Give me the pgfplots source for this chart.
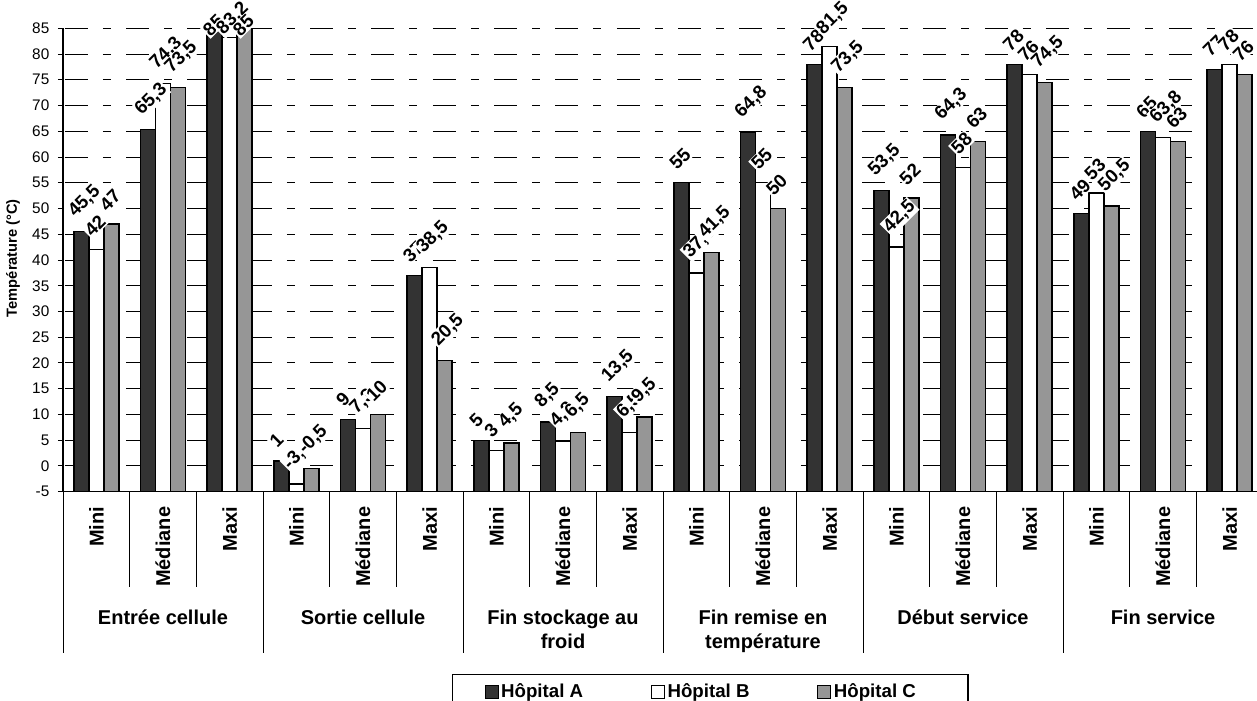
\documentclass[border=0pt]{standalone}
\usepackage{pgfplots}
\pgfplotsset{compat=1.18}
\usepackage{pgfplotstable}
\usepackage{fontspec}
\setmainfont{Liberation Sans}
\definecolor{colA}{HTML}{333333}
\definecolor{colC}{HTML}{969696}

\pgfplotstableread{
x A B C
0 45.5 42 47
1 65.3 74.3 73.5
2 85 83.2 85
3 1 -3.5 -0.5
4 9 7.3 10
5 37 38.5 20.5
6 5 3 4.5
7 8.5 4.8 6.5
8 13.5 6.5 9.5
9 55 37.5 41.5
10 64.8 55 50
11 78 81.5 73.5
12 53.5 42.5 52
13 64.3 58 63
14 78 76 74.5
15 49 53 50.5
16 65 63.8 63
17 77 78 76
}\data

\begin{document}
\begin{tikzpicture}
\begin{axis}[
  at={(47.25pt,156.2pt)}, anchor=south west,
  scale only axis, width=900pt, height=347.6pt,
  xmin=-0.5, xmax=17.5, ymin=0, ymax=90,
  y filter/.expression={y+5},
  point meta=rawy,
  visualization depends on={rawy \as \rawyval},
  ybar=0pt, bar width=0.225,
  axis x line*=bottom, axis y line*=left,
  axis line style={line width=0.9pt, black},
  tick align=outside,
  ytick={0,5,...,90},
  yticklabels={-5,0,5,10,15,20,25,30,35,40,45,50,55,60,65,70,75,80,85},
  yticklabel style={font=\fontsize{11.5}{12}\selectfont, xshift=-3pt},
  ytick style={black, line width=0.75pt},
  ymajorgrids,
  major grid style={black, line width=0.75pt, dash pattern=on 17.25pt off 11.25pt on 6pt off 11.5pt, dash phase=44.65pt},
  major tick length=3.75pt,
  xtick={0,...,17},
  xticklabels={Mini,Médiane,Maxi,Mini,Médiane,Maxi,Mini,Médiane,Maxi,Mini,Médiane,Maxi,Mini,Médiane,Maxi,Mini,Médiane,Maxi},
  xticklabel style={yshift=-4pt, font=\bfseries\fontsize{15}{16}\selectfont, rotate=90, anchor=east},
  every major x tick/.style={draw=none},
  minor xtick={0.5,1.5,3.5,4.5,6.5,7.5,9.5,10.5,12.5,13.5,15.5,16.5},
  minor tick length=71.25pt,
  minor tick style={black, line width=0.75pt},
  ylabel={Température (°C)},
  ylabel style={font=\bfseries\fontsize{11}{13}\selectfont, at={(axis description cs:-0.0417,0.504)}, anchor=center},
  nodes near coords,
  /pgf/number format/use comma,
  /pgf/number format/assume math mode=true,
  /pgf/number format/1000 sep={},
  every node near coord/.append style={font=\bfseries\fontsize{14}{15}\selectfont, fill=white, inner sep=0.8pt, anchor=south west, xshift=-3pt, yshift={min(7,319-3.855*\rawyval)*1pt}, rotate=45, text=black},
  legend columns=3,
  legend style={at={(0.3242,-0.3934)}, anchor=north west, draw=black, line width=1pt, font=\bfseries\fontsize{14}{15}\selectfont, inner xsep=24pt, inner ysep=5pt, /tikz/every even column/.append style={column sep=49pt}},
  legend image code/.code={\draw[#1, line width=0.6pt] (0pt,-4.9pt) rectangle (9.75pt,4.9pt);},
]
\addplot[draw=black, line width=1.1pt, fill=colA] table[x=x,y=A]{\data};
\addplot[draw=black, line width=1.1pt, fill=white] table[x=x,y=B]{\data};
\addplot[draw=black, line width=1.1pt, fill=colC] table[x=x,y=C]{\data};
\legend{Hôpital A, Hôpital B, {Hôpital C\hspace*{13pt}\null}}
\end{axis}
\begin{axis}[
  at={(47.25pt,156.2pt)}, anchor=south west,
  scale only axis, width=900pt, height=347.6pt,
  xmin=-0.5, xmax=17.5, ymin=0, ymax=1,
  axis y line=none, axis x line*=bottom,
  x axis line style={draw=none},
  tick align=outside,
  xtick={1,4,7,10,13,16},
  xticklabels={Entrée cellule, Sortie cellule, {Fin stockage au\\froid}, {Fin remise en\\température}, Début service, Fin service},
  xticklabel style={font=\bfseries\fontsize{15}{18}\selectfont, align=center, anchor=north, yshift=-85pt},
  major tick length=0pt,
  minor xtick={-0.5,2.5,5.5,8.5,11.5,14.5,17.5},
  minor tick length=120.75pt,
  minor tick style={black, line width=0.75pt},
]
\end{axis}
\pgfresetboundingbox
\useasboundingbox (0,0) rectangle (942.75pt,525pt);
\end{tikzpicture}
\end{document}
